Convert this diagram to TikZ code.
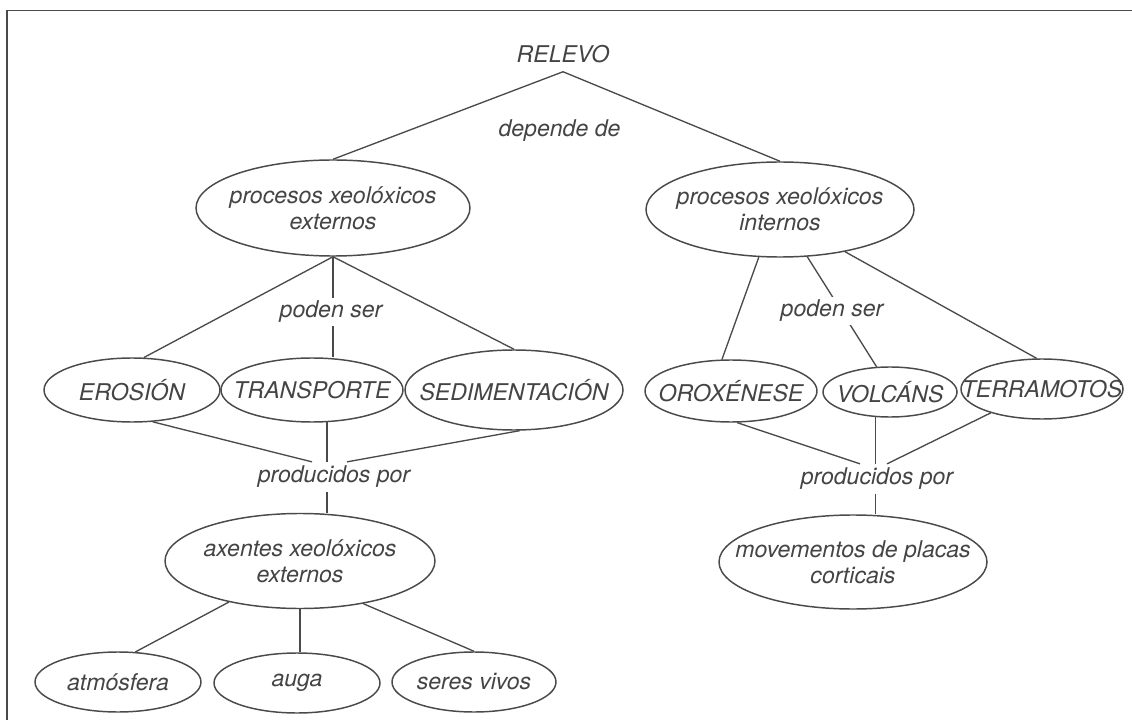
\documentclass[tikz,border=0pt]{standalone}
\usepackage{fontspec}
\setmainfont{TeX Gyre Heros}
\usetikzlibrary{shapes.geometric}
\definecolor{ink}{HTML}{444444}
\definecolor{wire}{HTML}{4A4A4A}
\begin{document}
\begin{tikzpicture}[x=0.75pt,y=-0.75pt,
  every node/.style={font=\fontsize{17.3}{19.5}\selectfont\itshape, text=ink},
  ell/.style 2 args={ellipse, draw=wire, line width=1.1pt, inner sep=0pt,
    minimum width=0.75pt*#1, minimum height=0.75pt*#2},
  lbl/.style={align=center, inner sep=0pt},
  word/.style={inner sep=3pt},
  link/.style={draw=wire, line width=1pt},
  gap/.style={fill=white, inner sep=2pt}]
\useasboundingbox (0,0) rectangle (1132,720);

% page frame (top and left rules)
\draw[wire, line width=1.4pt] (1132,10.5) -- (7,10.5) -- (7,720);

% root and first level
\node[word, inner sep=6.5pt] (relevo) at (563,54) {RELEVO};
\node[word] (depende) at (559.5,131) {depende de};
\node[ell={274}{96}, label={[lbl]center:{procesos xeolóxicos\\externos}}] (pext) at (333,208) {};
\node[ell={268}{95}, label={[lbl]center:{procesos xeolóxicos\\internos}}] (pint) at (780,209.5) {};

% external processes
\node[ell={176}{64}, label={[lbl]center:{EROSIÓN}}] (erosion) at (132,390) {};
\node[ell={182}{64}, label={[lbl]center:{TRANSPORTE}}] (transporte) at (312,390) {};
\node[ell={218}{80}, label={[lbl]center:{SEDIMENTACIÓN}}] (sediment) at (514,390) {};

% internal processes
\node[ell={172}{62}, label={[lbl]center:{OROXÉNESE}}] (oro) at (731,391) {};
\node[ell={134}{50}, label={[lbl]center:{VOLCÁNS}}] (volc) at (890,392) {};
\node[ell={162}{60}, label={[lbl]center:{TERRAMOTOS}}] (terra) at (1042,389) {};

% agents
\node[word] (prod1) at (334,477) {producidos por};
\node[word] (prod2) at (877,479) {producidos por};
\node[ell={270}{95}, label={[lbl]center:{axentes xeolóxicos\\externos}}] (axentes) at (300,561) {};
\node[ell={268}{94}, label={[lbl]center:{movementos de placas\\corticais}}] (movem) at (853,562) {};
\node[ell={166}{60}, label={[lbl]center:{atmósfera}}] (atmos) at (118,682) {};
\node[ell={166}{60}, label={[lbl]center:{auga}}] (auga) at (297,683) {};
\node[ell={164}{60}, label={[lbl]center:{seres vivos}}] (seres) at (474,682) {};

% connectors from the root
\draw[link] (relevo.south) -- (pext.north);
\draw[link] (relevo.south) -- (pint.north);

% external processes branch
\draw[link] (pext.south) -- (erosion.70);
\draw[link] (pext.south) -- (pext.south |- transporte.north);
\draw[link] (pext.south) -- (sediment.north);
\node[gap] (poden1) at (331,312) {poden ser};

\draw[link] (erosion.-57) -- ([xshift=-16.5pt]prod1.north);
\draw[link] (transporte.-65) -- (transporte.-65 |- prod1.north);
\draw[link] (sediment.-82) -- ([xshift=9.75pt]prod1.north);
\draw[link] (transporte.-65 |- prod1.south) -- (transporte.-65 |- axentes.north);

\draw[link] (axentes.210) -- (atmos.60);
\draw[link] (axentes.south) -- (axentes.south |- auga.north);
\draw[link] (axentes.-34) -- (seres.north);

% internal processes branch
\draw[link] (pint.246) -- (oro.106);
\draw[link] (pint.-60) -- (volc.118);
\draw[link] (pint.-33) -- (terra.100);
\node[gap] (poden2) at (832,311) {poden ser};

\draw[link] (oro.-79) -- ([xshift=-12.75pt]prod2.north);
\draw[link] (volc.-120) -- (volc.-120 |- prod2.north);
\draw[link] (terra.205) -- ([xshift=7.5pt]prod2.north);
\draw[link] (volc.-120 |- prod2.south) -- (volc.-120 |- movem.north);
\end{tikzpicture}
\end{document}
